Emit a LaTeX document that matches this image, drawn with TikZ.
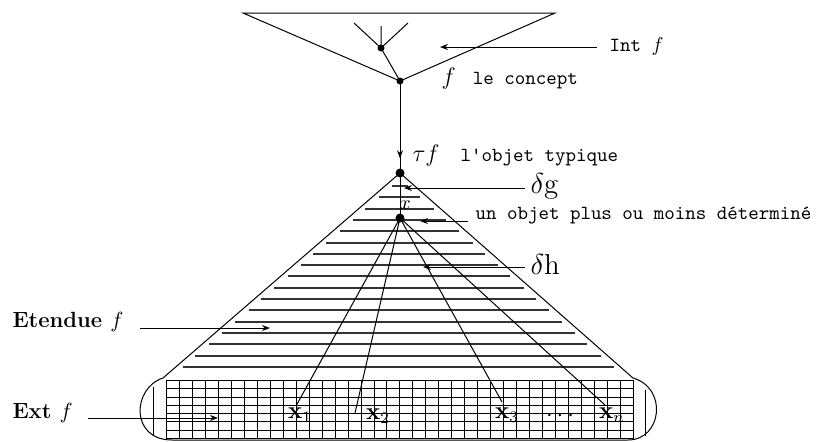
\documentclass[tikz,border=0pt]{standalone}
\usetikzlibrary{arrows.meta,decorations.markings}
\begin{document}
\begin{tikzpicture}[x=0.5pt,y=-0.5pt, line width=0.5pt,
  lbl/.style={font=\ttfamily, anchor=west, inner sep=0pt},
  dot/.style={circle, fill, inner sep=0pt, minimum size=#1},
  arr/.style={-{Stealth[length=4pt,width=3pt]}},
  hatch/.style={line width=0.9pt, black!80},
  grid/.style={line width=0.6pt},
  xl/.style={inner sep=0pt, font=\large}]
\useasboundingbox (0,0) rectangle (832,441);
% top triangle (intension)
\draw (243,13) -- (555,13) -- (400,81) -- cycle;
\node[dot=3.5pt] (c) at (400,81) {};
\node[dot=3.5pt] (t) at (381,48) {};
\coordinate (b1) at (354,23);
\coordinate (b2) at (381,26);
\coordinate (b3) at (408,23);
\draw (t.center) -- (b1) (t.center) -- (b2) (t.center) -- (b3);
\draw (t.center) -- (c.center);
% Int f
\coordinate (intS) at (597,47);
\coordinate (intE) at (440,47);
\draw[arr] (intS) -- (intE);
\node[lbl] (int) at (609,46) {Int $f$};
\node[lbl] (concept) at (441,78) {{\large$f$}\,\, le concept};
% vertical
\node[dot=4.5pt] (tau) at (400,173) {};
\draw[postaction={decorate},decoration={markings,mark=at position 0.84 with {\arrow{Stealth[length=4pt,width=3pt]}}}] (c.center) -- (tau.center);
\node[lbl] (typ) at (412,155) {{\large$\tau f$}\ \ l'objet typique};
% pyramid outline
\draw (tau.center) -- (163,378) .. controls (132,388) and (130,440) .. (172,440) -- (628,440) .. controls (662,440) and (668,388) .. (633,378) -- cycle;
% hatch lines
\foreach \i in {0,...,16}{
  \pgfmathsetmacro\yy{round(186+11.3*\i)}
  \pgfmathsetmacro\xa{400-1.156*(\yy-173)+7}
  \pgfmathsetmacro\xb{400+1.137*(\yy-173)-7}
  \draw[hatch] (\xa,\yy) -- (\xb,\yy);
}
% grid
\foreach \i in {0,...,36}{
  \pgfmathsetmacro\gx{round(166+12.97*\i)+0.5}
  \draw[grid] (\gx,380) -- (\gx,438);
}
\foreach \j in {0,...,7}{
  \pgfmathsetmacro\gy{round(380+8.29*\j)+0.5}
  \draw[grid] (166,\gy) -- (633.5,\gy);
}
\draw (153,387) -- (153,436);
\draw (645,390) -- (645,436);
% second object
\node[dot=4.5pt] (xo) at (400,218) {};
\draw (tau.center) -- (xo.center);
\node[inner sep=0pt] (xlab) at (405,205) {$x$};
% lines to individuals
\coordinate (e1) at (296,406);
\coordinate (e2) at (355,413);
\coordinate (e3) at (502,402);
\coordinate (e4) at (605,405);
\draw (xo.center) -- (e1) (xo.center) -- (e2) (xo.center) -- (e3) (xo.center) -- (e4);
\node[xl] (x1) at (300,415) {$\mathbf{x}_1$};
\node[xl] (x2) at (378,416) {$\mathbf{x}_2$};
\node[xl] (x3) at (507,415) {$\mathbf{x}_3$};
\node[xl] (dots) at (560,416) {$\cdots$};
\node[xl] (xn) at (612,415) {$\mathbf{x}_n$};
% delta g
\coordinate (gS) at (525,188);
\coordinate (gE) at (404,188);
\draw[arr] (gS) -- (gE);
\node[anchor=west, inner sep=0pt, font=\Large] (dg) at (530,186) {$\delta$g};
% un objet
\coordinate (uS) at (468,221);
\coordinate (uE) at (420,221);
\draw[arr] (uS) -- (uE);
\node[lbl] (un) at (475,216) {un objet plus ou moins déterminé};
% delta h
\coordinate (hS) at (525,267);
\coordinate (hE) at (423,267);
\draw[arr] (hS) -- (hE);
\node[anchor=west, inner sep=0pt, font=\Large] (dh) at (530,264) {$\delta$h};
% Etendue
\node[anchor=west, inner sep=0pt, font=\fontsize{11}{13}\selectfont\bfseries] (et) at (12,322) {Etendue $f$};
\coordinate (eS) at (140,328);
\coordinate (eE) at (270,328);
\draw[arr] (eS) -- (eE);
% Ext
\node[anchor=west, inner sep=0pt, font=\fontsize{11}{13}\selectfont\bfseries] (ext) at (12,413) {Ext $f$};
\coordinate (xS) at (88,418);
\coordinate (xE) at (218,418);
\draw[arr] (xS) -- (xE);
\end{tikzpicture}
\end{document}
